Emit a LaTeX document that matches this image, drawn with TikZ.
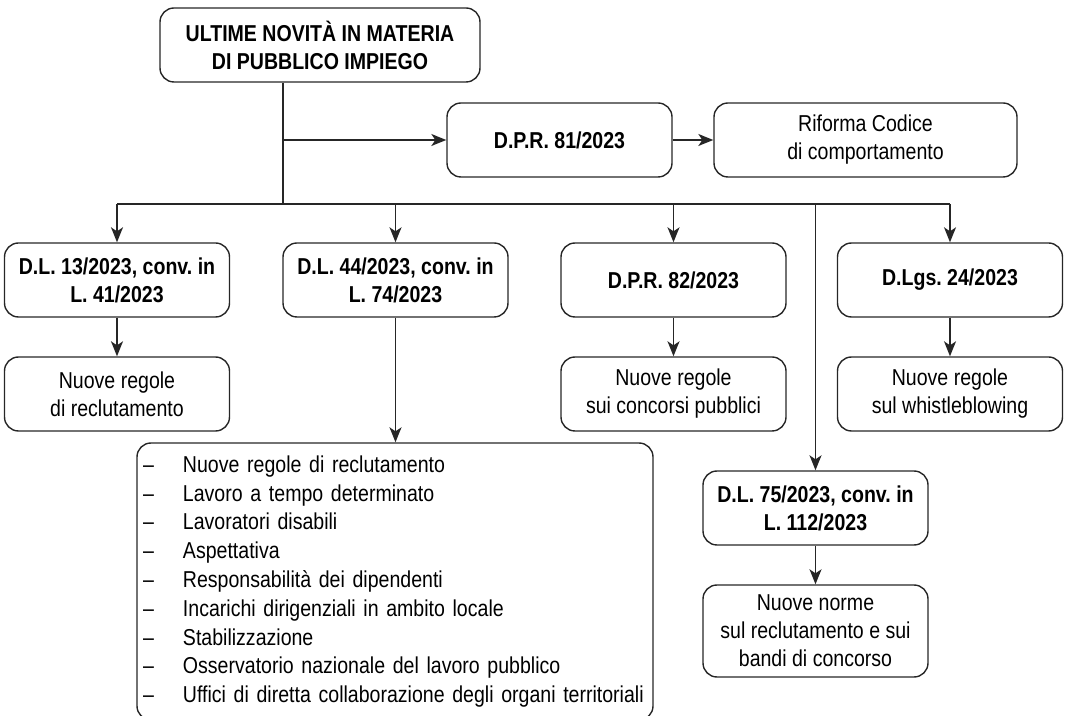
\documentclass[tikz,border=0pt]{standalone}
\usepackage{fontspec}
\setmainfont{Liberation Sans}[FakeStretch=0.85]
\usetikzlibrary{arrows.meta}
\frenchspacing

\begin{document}
\begin{tikzpicture}[x=0.5pt,y=-0.5pt,
    box/.style={draw=black!85,line width=0.7pt,rounded corners=7pt,
      minimum width=112.5pt,minimum height=37pt,inner sep=2pt,align=center,
      font=\fontsize{11.5}{14}\selectfont},
    legge/.style={box,font=\fontsize{11.5}{14}\selectfont\bfseries},
    link/.style={draw=black!85,line width=0.7pt},
    arr/.style={link,-{Stealth[length=7.5pt,width=6pt,inset=2pt]}}]
  \useasboundingbox (0,0) rectangle (1067,716);

  % vertice
  \node[legge,minimum width=160pt] (titolo) at (320,45) {ULTIME NOVITÀ IN MATERIA\\DI PUBBLICO IMPIEGO};
  \node[legge] (dpr81) at (559.5,140) {D.P.R. 81/2023};
  \node[box,minimum width=151.5pt] (riforma) at (865.5,140) {Riforma Codice\\di comportamento};

  % provvedimenti
  \node[legge] (dl13) at (117,280) {D.L. 13/2023, conv. in\\L. 41/2023};
  \node[legge] (dl44) at (395.5,280) {D.L. 44/2023, conv. in\\L. 74/2023};
  \node[legge] (dpr82) at (673.5,280) {D.P.R. 82/2023};
  \node[legge] (dlgs) at (950,280) {D.Lgs. 24/2023};
  \node[legge] (dl75) at (815.5,508) {D.L. 75/2023, conv. in\\L. 112/2023};

  % contenuti
  \node[box] (recl13) at (117,394) {Nuove regole\\di reclutamento};
  \node[box] (concorsi) at (673.5,394) {Nuove regole\\sui concorsi pubblici};
  \node[box] (whistle) at (950,394) {Nuove regole\\sul whistleblowing};
  \node[box,minimum height=46pt] (norme75) at (815.5,631) {Nuove norme\\sul reclutamento e sui\\bandi di concorso};
  \node[box,minimum width=258pt,minimum height=138.5pt,inner xsep=3pt,text width=252pt,
    align=left,font=\fontsize{11.5}{14.4}\selectfont] (elenco) at (395,581.5) {%
    \makebox[20pt][l]{–}Nuove regole di reclutamento\\
    \makebox[20pt][l]{–}Lavoro a tempo determinato\\
    \makebox[20pt][l]{–}Lavoratori disabili\\
    \makebox[20pt][l]{–}Aspettativa\\
    \makebox[20pt][l]{–}Responsabilità dei dipendenti\\
    \makebox[20pt][l]{–}Incarichi dirigenziali in ambito locale\\
    \makebox[20pt][l]{–}Stabilizzazione\\
    \makebox[20pt][l]{–}Osservatorio nazionale del lavoro pubblico\\
    \makebox[20pt][l]{–}Uffici di diretta collaborazione degli organi territoriali};

  % collegamenti
  \coordinate (snodo) at (283,204);
  \coordinate (ramo) at (283,140);
  \draw[link] (titolo.south -| snodo) -- (snodo);
  \draw[arr] (ramo) -- (dpr81);
  \draw[arr] (dpr81) -- (riforma);
  \draw[link] (dl13.north |- snodo) -- (dlgs.north |- snodo);
  \foreach \n in {dl13,dl44,dpr82,dlgs,dl75}
    \draw[arr] (\n.north |- snodo) -- (\n.north);
  \draw[arr] (dl13) -- (recl13);
  \draw[arr] (dpr82) -- (concorsi);
  \draw[arr] (dlgs) -- (whistle);
  \draw[arr] (dl75) -- (norme75);
  \draw[arr] (dl44.south) -- (dl44.south |- elenco.north);
\end{tikzpicture}
\end{document}
